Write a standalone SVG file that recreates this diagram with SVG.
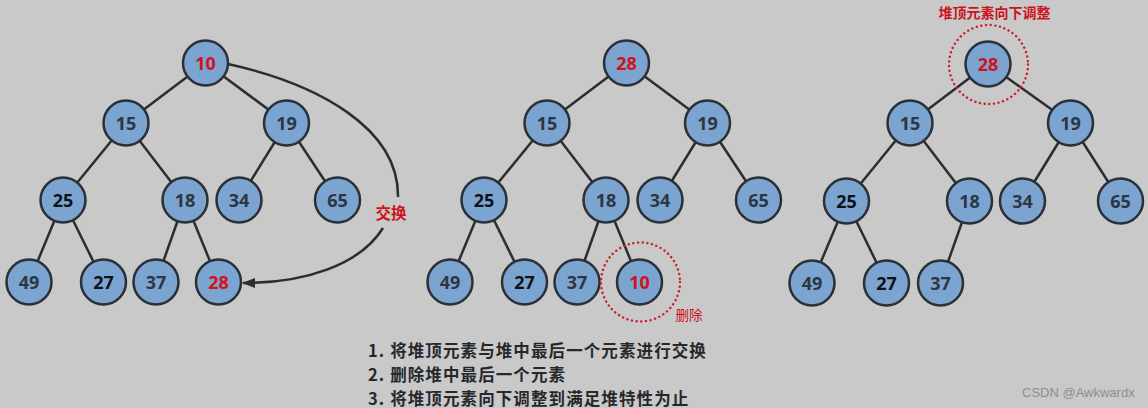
<svg xmlns="http://www.w3.org/2000/svg" width="1148" height="408" viewBox="0 0 1148 408">
<style>
.bg{fill:#c9c9c9}
.edge{stroke:#2b2d31;stroke-width:2.5;fill:none}
.node circle{fill:#7ca4d0;stroke:#2b2f36;stroke-width:2.5}
.node text{font-family:"Open Sans","Noto Sans",sans-serif;font-weight:700;font-size:18px;fill:#2c3644;text-anchor:middle}
.node text.dk{fill:#0e1218}
.node text.red{fill:#d0121b}
.ring{fill:none;stroke:#cc1b2a;stroke-width:2.4;stroke-dasharray:0.1 4.6;stroke-linecap:round}
.lbl{font-family:"Noto Sans CJK SC",sans-serif;fill:#cc1420;text-anchor:middle}
.note{font-family:"Noto Sans CJK SC",sans-serif;font-weight:700;font-size:16.5px;letter-spacing:1.1px;fill:#26282c}
</style>
<defs>
<marker id="ah" markerWidth="14" markerHeight="10" refX="12" refY="5" orient="auto" markerUnits="userSpaceOnUse">
<path d="M0,0 L13,5 L0,10 Z" fill="#2b2d31"/>
</marker>
</defs>
<rect class="bg" x="0" y="0" width="1148" height="408"/>
<g id="connectors">
<line class="edge" x1="205.5" y1="63" x2="126" y2="123"/>
<line class="edge" x1="205.5" y1="63" x2="286.5" y2="123"/>
<line class="edge" x1="126" y1="123" x2="63" y2="200"/>
<line class="edge" x1="126" y1="123" x2="185" y2="200"/>
<line class="edge" x1="286.5" y1="123" x2="239" y2="200"/>
<line class="edge" x1="286.5" y1="123" x2="337.5" y2="200"/>
<line class="edge" x1="63" y1="200" x2="29" y2="282"/>
<line class="edge" x1="63" y1="200" x2="103.5" y2="282"/>
<line class="edge" x1="185" y1="200" x2="156" y2="282"/>
<line class="edge" x1="185" y1="200" x2="218.5" y2="282"/>
<path class="edge" d="M228,64 C318,84 399,128 398,197"/>
<path class="edge" d="M383,228 C360,265 305,283 243,283" marker-end="url(#ah)"/>
<line class="edge" x1="626.5" y1="63" x2="547" y2="123"/>
<line class="edge" x1="626.5" y1="63" x2="707.5" y2="123"/>
<line class="edge" x1="547" y1="123" x2="484" y2="200"/>
<line class="edge" x1="547" y1="123" x2="606" y2="200"/>
<line class="edge" x1="707.5" y1="123" x2="660" y2="200"/>
<line class="edge" x1="707.5" y1="123" x2="758.5" y2="200"/>
<line class="edge" x1="484" y1="200" x2="450" y2="282"/>
<line class="edge" x1="484" y1="200" x2="524.5" y2="282"/>
<line class="edge" x1="606" y1="200" x2="577" y2="282"/>
<line class="edge" x1="606" y1="200" x2="639.5" y2="282"/>
<line class="edge" x1="988" y1="64" x2="910" y2="123"/>
<line class="edge" x1="988" y1="64" x2="1070.5" y2="123"/>
<line class="edge" x1="910" y1="123" x2="846.5" y2="201"/>
<line class="edge" x1="910" y1="123" x2="969.5" y2="201"/>
<line class="edge" x1="1070.5" y1="123" x2="1022.5" y2="201"/>
<line class="edge" x1="1070.5" y1="123" x2="1120.5" y2="201"/>
<line class="edge" x1="846.5" y1="201" x2="812" y2="283"/>
<line class="edge" x1="846.5" y1="201" x2="886.5" y2="283"/>
<line class="edge" x1="969.5" y1="201" x2="940.5" y2="283"/>
</g>
<g id="L10" class="node"><circle cx="205.5" cy="63" r="22.5"/><text class="red" x="205.5" y="69.5">10</text></g>
<g id="L15" class="node"><circle cx="126" cy="123" r="22.5"/><text x="126" y="129.5">15</text></g>
<g id="L19" class="node"><circle cx="286.5" cy="123" r="22.5"/><text x="286.5" y="129.5">19</text></g>
<g id="L25" class="node"><circle cx="63" cy="200" r="22.5"/><text class="dk" x="63" y="206.5">25</text></g>
<g id="L18" class="node"><circle cx="185" cy="200" r="22.5"/><text x="185" y="206.5">18</text></g>
<g id="L34" class="node"><circle cx="239" cy="200" r="22.5"/><text x="239" y="206.5">34</text></g>
<g id="L65" class="node"><circle cx="337.5" cy="200" r="22.5"/><text x="337.5" y="206.5">65</text></g>
<g id="L49" class="node"><circle cx="29" cy="282" r="22.5"/><text x="29" y="288.5">49</text></g>
<g id="L27" class="node"><circle cx="103.5" cy="282" r="22.5"/><text class="dk" x="103.5" y="288.5">27</text></g>
<g id="L37" class="node"><circle cx="156" cy="282" r="22.5"/><text x="156" y="288.5">37</text></g>
<g id="L28" class="node"><circle cx="218.5" cy="282" r="22.5"/><text class="red" x="218.5" y="288.5">28</text></g>
<g id="swapLabel"><text class="lbl" x="391" y="219" font-size="15.5" font-weight="700">交换</text></g>
<g id="M28" class="node"><circle cx="626.5" cy="63" r="22.5"/><text class="red" x="626.5" y="69.5">28</text></g>
<g id="M15" class="node"><circle cx="547" cy="123" r="22.5"/><text x="547" y="129.5">15</text></g>
<g id="M19" class="node"><circle cx="707.5" cy="123" r="22.5"/><text x="707.5" y="129.5">19</text></g>
<g id="M25" class="node"><circle cx="484" cy="200" r="22.5"/><text class="dk" x="484" y="206.5">25</text></g>
<g id="M18" class="node"><circle cx="606" cy="200" r="22.5"/><text x="606" y="206.5">18</text></g>
<g id="M34" class="node"><circle cx="660" cy="200" r="22.5"/><text x="660" y="206.5">34</text></g>
<g id="M65" class="node"><circle cx="758.5" cy="200" r="22.5"/><text x="758.5" y="206.5">65</text></g>
<g id="M49" class="node"><circle cx="450" cy="282" r="22.5"/><text x="450" y="288.5">49</text></g>
<g id="M27" class="node"><circle cx="524.5" cy="282" r="22.5"/><text class="dk" x="524.5" y="288.5">27</text></g>
<g id="M37" class="node"><circle cx="577" cy="282" r="22.5"/><text x="577" y="288.5">37</text></g>
<g id="M10" class="node"><circle cx="639.5" cy="282" r="22.5"/><text class="red" x="639.5" y="288.5">10</text></g>
<g id="deleteMark"><circle class="ring" cx="640.5" cy="282" r="39.5"/><text class="lbl" x="689" y="320" font-size="13.5">删除</text></g>
<g id="R28" class="node"><circle cx="988" cy="64" r="22.5"/><text class="red" x="988" y="70.5">28</text></g>
<g id="R15" class="node"><circle cx="910" cy="123" r="22.5"/><text x="910" y="129.5">15</text></g>
<g id="R19" class="node"><circle cx="1070.5" cy="123" r="22.5"/><text x="1070.5" y="129.5">19</text></g>
<g id="R25" class="node"><circle cx="846.5" cy="201" r="22.5"/><text class="dk" x="846.5" y="207.5">25</text></g>
<g id="R18" class="node"><circle cx="969.5" cy="201" r="22.5"/><text x="969.5" y="207.5">18</text></g>
<g id="R34" class="node"><circle cx="1022.5" cy="201" r="22.5"/><text x="1022.5" y="207.5">34</text></g>
<g id="R65" class="node"><circle cx="1120.5" cy="201" r="22.5"/><text x="1120.5" y="207.5">65</text></g>
<g id="R49" class="node"><circle cx="812" cy="283" r="22.5"/><text x="812" y="289.5">49</text></g>
<g id="R27" class="node"><circle cx="886.5" cy="283" r="22.5"/><text class="dk" x="886.5" y="289.5">27</text></g>
<g id="R37" class="node"><circle cx="940.5" cy="283" r="22.5"/><text x="940.5" y="289.5">37</text></g>
<g id="adjustMark"><circle class="ring" cx="988.5" cy="64.5" r="39.5"/><text class="lbl" x="994.5" y="18" font-size="14" font-weight="700">堆顶元素向下调整</text></g>
<g id="notes">
<text class="note" x="368" y="357">1. 将堆顶元素与堆中最后一个元素进行交换</text>
<text class="note" x="368" y="381">2. 删除堆中最后一个元素</text>
<text class="note" x="368" y="405">3. 将堆顶元素向下调整到满足堆特性为止</text>
</g>
<text x="1022" y="397" font-family="Liberation Sans, Arial, sans-serif" font-size="13" fill="#8e8e8e">CSDN @Awkwardx</text>
</svg>
